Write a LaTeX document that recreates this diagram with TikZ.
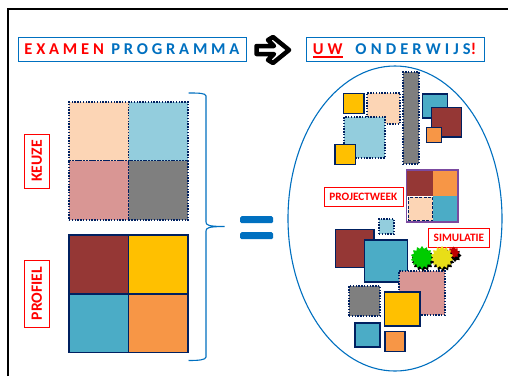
\documentclass[tikz,border=0pt]{standalone}
\usepackage{fontspec}
\setmainfont{Carlito}
\usetikzlibrary{shapes.geometric}
\definecolor{navy}{HTML}{002060}
\definecolor{ublue}{HTML}{0070C0}
\definecolor{peach}{HTML}{FCD5B5}
\definecolor{lblue}{HTML}{93CDDD}
\definecolor{pinkc}{HTML}{D99694}
\definecolor{grayc}{HTML}{7F7F7F}
\definecolor{maroon}{HTML}{953735}
\definecolor{yellowc}{HTML}{FFC000}
\definecolor{tealc}{HTML}{4BACC6}
\definecolor{orangec}{HTML}{F79646}
\definecolor{purplec}{HTML}{7B4AA0}
\tikzset{
  x=1pt,y=-1pt,
  cell/.style={rectangle,inner sep=0pt,outer sep=0pt,anchor=north west},
  solidbox/.style={cell,draw=navy,line width=1.5pt},
  heavybox/.style={cell,draw=navy,line width=1.9pt},
  dotbox/.style={cell,draw=navy,line width=1.6pt,dash pattern=on 1.4pt off 1.4pt},
  titlebox/.style={rectangle,draw=ublue,line width=0.9pt,fill=white,inner sep=0pt,anchor=north west,font=\bfseries\fontsize{16.5}{18}\selectfont,text=ublue},
  redbox/.style={rectangle,draw=red,line width=0.9pt,fill=white,inner sep=0pt,text=red,font=\bfseries\fontsize{11.3}{12}\selectfont},
  sidelabel/.style={redbox,font=\bfseries\fontsize{15.7}{16}\selectfont},
  bracel/.style={draw=ublue,line width=1.1pt},
  eqbar/.style={rectangle,fill=ublue,rounded corners=1.5pt,inner sep=0pt,anchor=north west,minimum width=33pt,minimum height=7pt},
  burst/.style={star,star points=14,star point ratio=1.3,inner sep=0pt,minimum size=23pt},
}
\newcommand{\sq}[7]{\node[#2,fill=#3,minimum width=#6pt,minimum height=#7pt] (#1) at (#4,#5) {};}
\begin{document}
\begin{tikzpicture}
\useasboundingbox (0,0) rectangle (508,376);
\fill[white] (0,0) rectangle (508,376);
% frame
\draw[black,line width=2pt] (8,376) -- (8,9) -- (508,9);
% titles
\node[titlebox,minimum width=228pt,minimum height=24.5pt,align=center] (t1) at (17.5,36.5)
  {\addfontfeature{LetterSpace=23}\textcolor{red}{EXAMEN} PROGRAMMA};
\node[titlebox,minimum width=178pt,minimum height=24.5pt,align=center] (t2) at (306,36.5)
  {\addfontfeature{LetterSpace=25}\textcolor{red}{UW}\hspace{5pt} ONDERWIJS\textcolor{red}{!}\hspace{2pt}};
\coordinate (ul1) at (313,57); \coordinate (ul2) at (343,57);
\draw[red,line width=1.7pt] (ul1) -- (ul2);
% arrow
\draw[black,fill=white,line width=4.5pt,line join=round]
  (256.5,46) -- (274,46) -- (268,40) -- (273,37) -- (289,50) -- (273,63) -- (268,60) -- (274,54) -- (256.5,54) -- cycle;
% keuze grid
\sq{k1}{dotbox}{peach}{69}{102}{59.5}{58.5}
\sq{k2}{dotbox}{lblue}{128.5}{102}{59.5}{58.5}
\sq{k3}{dotbox}{pinkc}{69}{160.5}{59.5}{59.5}
\sq{k4}{dotbox}{grayc}{128.5}{160.5}{59.5}{59.5}
% profiel grid
\sq{p1}{solidbox}{maroon}{69}{235}{59.5}{59}
\sq{p2}{solidbox}{yellowc}{128.5}{235}{59.5}{59}
\sq{p3}{solidbox}{tealc}{69}{294}{59.5}{58.5}
\sq{p4}{solidbox}{orangec}{128.5}{294}{59.5}{58.5}
% labels
\node[sidelabel,minimum width=25.5pt,minimum height=54pt,anchor=center] (keuze) at (36.75,161)
  {\rotatebox{90}{KEUZE}};
\node[sidelabel,minimum width=25.5pt,minimum height=67pt,anchor=center] (profiel) at (36.75,293.5)
  {\rotatebox{90}{PROFIEL}};
% brace
\draw[bracel] (188.5,93) .. controls (198,93) and (206,93) .. (206,96) -- (206,222)
  .. controls (206,225) and (208,226.5) .. (224.5,226.5)
  .. controls (208,226.5) and (206,228) .. (206,231) -- (206,357)
  .. controls (206,360) and (198,360.5) .. (188.5,360.5);
% equals
\node[eqbar] (eq1) at (240,216) {};
\node[eqbar] (eq2) at (240,232) {};
% ellipse
\node[ellipse,draw=ublue,line width=1.1pt,minimum width=214pt,minimum height=305pt,inner sep=0pt] (ell) at (395,218.5) {};
% upper cluster
\sq{a1}{dotbox}{peach}{367}{93}{33}{31}
\sq{a2}{heavybox}{yellowc}{343.5}{93.5}{20.5}{20}
\sq{a3}{dotbox}{lblue}{344}{117}{41}{41}
\sq{a4}{heavybox}{yellowc}{335}{144.5}{20.5}{20}
\sq{a5}{dotbox}{grayc}{403}{72}{16}{92}
\sq{a6}{heavybox}{tealc}{422.5}{94}{25}{24}
\sq{a7}{heavybox}{maroon}{431.5}{107.5}{30}{29.5}
\sq{a8}{heavybox}{orangec}{426.5}{127.5}{15}{15}
% project week
\node[redbox,minimum width=79pt,minimum height=19pt,anchor=north west] (pw) at (323.5,187) {PROJECTWEEK};
\sq{w1}{cell}{maroon}{406.5}{170}{26.5}{26}
\sq{w2}{cell}{orangec}{433}{170}{25}{26}
\sq{w3}{cell}{tealc}{433}{196}{25}{26}
\sq{w4}{cell,draw=navy,line width=0.9pt,dash pattern=on 3pt off 1.5pt}{peach}{408}{197}{24.5}{23.5}
\node[cell,draw=purplec,line width=1.2pt,minimum width=51.5pt,minimum height=52pt] (wb) at (406.5,170) {};
% lower cluster
\sq{b1}{dotbox}{lblue}{379}{219}{15}{15}
\sq{b2}{heavybox}{maroon}{335.5}{229.5}{38.5}{38}
\sq{b3}{heavybox}{tealc}{364.5}{240}{43}{42}
\sq{b4}{dotbox}{pinkc}{399}{271}{46}{44}
\sq{b5}{dotbox}{grayc}{349}{286}{31}{30}
\sq{b6}{heavybox}{yellowc}{384.5}{292}{35.5}{34}
\sq{b7}{heavybox}{tealc}{355}{323}{25}{24}
\sq{b8}{heavybox}{orangec}{385}{331.5}{20}{20}
% simulatie
\node[redbox,minimum width=61pt,minimum height=19pt,anchor=north west] (sim) at (428,228) {SIMULATIE};
% bursts
\node[star,star points=8,star point ratio=1.4,inner sep=0pt,fill=black,minimum size=13pt] (rs) at (455,255.5) {};
\node[star,star points=8,star point ratio=1.4,inner sep=0pt,fill=red!75!black,minimum size=12pt] (r) at (453.5,252.5) {};
\node[burst,fill=black] (gs) at (423,260) {};
\node[burst,fill=green!80!black] (g) at (422,257.5) {};
\node[burst,fill=black] (ys) at (443,260) {};
\node[burst,fill=yellow!90!black] (y) at (442,257.5) {};
\end{tikzpicture}
\end{document}
